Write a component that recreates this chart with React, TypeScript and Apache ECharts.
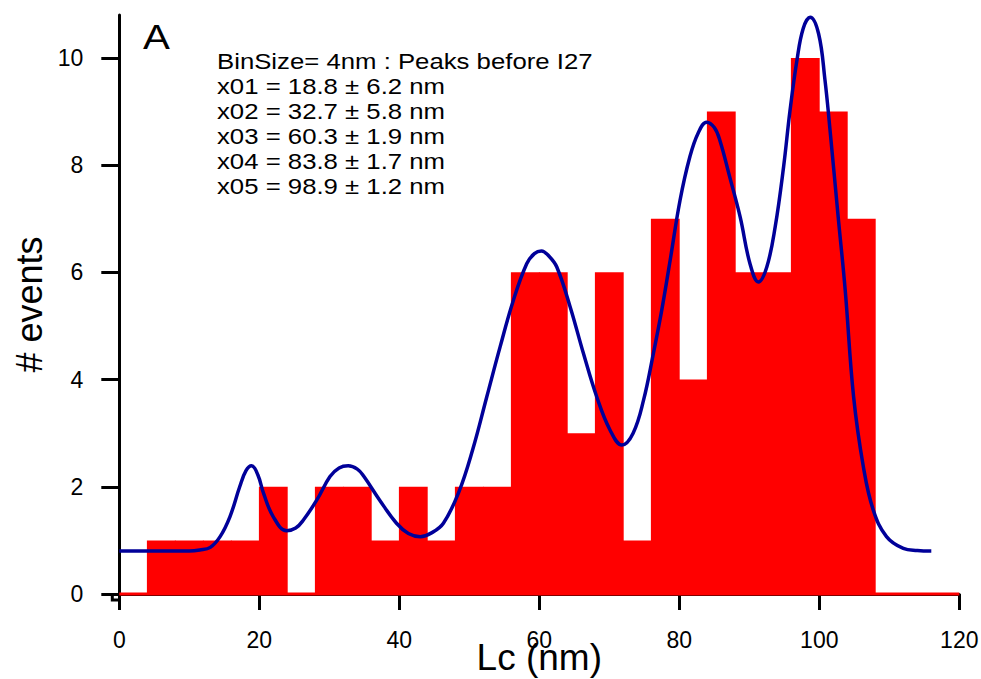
import React, { useEffect, useRef } from "react";
import * as echarts from "echarts";

// ---------- data ----------
const binSize = 4;
const binStarts = [0, 4, 8, 12, 16, 20, 24, 28, 32, 36, 40, 44, 48, 52, 56, 60, 64, 68, 72, 76, 80, 84, 88, 92, 96, 100, 104, 108, 112, 116];
const binCounts = [0, 1, 1, 1, 1, 2, 0, 2, 2, 1, 2, 1, 2, 2, 6, 6, 3, 6, 1, 7, 4, 9, 6, 6, 10, 9, 7, 0, 0, 0];

const fitX = [0, 4, 8, 10, 11.5, 13, 14.4, 15.8, 17.2, 18.1, 18.9, 19.8, 20.6, 22, 23.9, 25.2, 26.3, 28.2, 30.1, 31.4, 32.7, 34, 34.9, 37.2, 39.6, 41.3, 43, 44.6, 46.3, 48.5, 50.5, 52.5, 54.4, 56.3, 58.2, 59.3, 60.3, 61.4, 62.5, 64.4, 66.3, 68.2, 70.1, 71.8, 73.4, 74.9, 76.3, 77.5, 78.7, 80.1, 81.5, 82.7, 83.9, 85, 85.8, 87.2, 88.7, 90.1, 91.3, 92.5, 93.7, 94.9, 95.8, 96.8, 97.7, 98.7, 99.9, 100.8, 101.5, 102.7, 103.7, 104.9, 106.3, 107.7, 109.6, 112, 114, 116];
const fitY = [0.8, 0.8, 0.8, 0.8, 0.82, 0.87, 1.07, 1.44, 2.0, 2.3, 2.39, 2.22, 1.88, 1.44, 1.18, 1.23, 1.38, 1.75, 2.19, 2.35, 2.39, 2.33, 2.2, 1.75, 1.32, 1.13, 1.07, 1.14, 1.32, 1.9, 2.7, 3.68, 4.61, 5.48, 6.16, 6.35, 6.4, 6.3, 6.1, 5.36, 4.49, 3.68, 3.06, 2.78, 3.0, 3.62, 4.49, 5.3, 6.23, 7.34, 8.15, 8.6, 8.8, 8.7, 8.46, 7.78, 7.03, 6.16, 5.82, 6.1, 6.85, 7.97, 9.0, 9.95, 10.55, 10.76, 10.45, 9.6, 8.7, 7.03, 5.67, 3.68, 2.37, 1.57, 1.07, 0.85, 0.81, 0.8];

const baselineX = [0, 120];
const xTicks = [0, 20, 40, 60, 80, 100, 120];
const yTicks = [0, 2, 4, 6, 8, 10];

const panelLabel = "A";
const annotationLines = [
  "BinSize= 4nm : Peaks before I27",
  "x01 = 18.8 ± 6.2 nm",
  "x02 = 32.7 ± 5.8 nm",
  "x03 = 60.3 ± 1.9 nm",
  "x04 = 83.8 ± 1.7 nm",
  "x05 = 98.9 ± 1.2 nm",
];
const xTitle = "Lc (nm)";
const yTitle = "# events";

// ---------- layout ----------
const W = 981;
const H = 679;
const FONT = "'Liberation Sans', Arial, Helvetica, sans-serif";
const GL = 119.3;
const GR = 959.3;
const GT = 15;
const GB = 594;
const Y_OFF = 7;
const X_OFF = 6;

export default function App() {
  const ref = useRef<HTMLDivElement>(null);

  useEffect(() => {
    if (!ref.current) return;
    const chart = echarts.init(ref.current, null, { renderer: "svg" });

    const bins = binStarts
      .map((s, i) => [s, s + binSize, binCounts[i]])
      .filter((d) => d[2] > 0);
    const fit = fitX.map((x, i) => [x, fitY[i]]);
    const base = baselineX.map((x) => [x, 0]);

    const axisLine = { show: true, lineStyle: { color: "#000", width: 3 } };

    const option: any = {
      animation: false,
      backgroundColor: "#fff",
      grid: {
        left: GL,
        right: W - GR,
        top: GT,
        bottom: H - GB,
        containLabel: false,
        outerBoundsMode: "none",
      },
      xAxis: {
        type: "value",
        min: 0,
        max: 120,
        interval: 20,
        offset: X_OFF,
        axisLine,
        splitLine: { show: false },
        axisTick: { show: true, inside: false, length: 16, lineStyle: { color: "#000", width: 3 }, customValues: xTicks },
        axisLabel: { color: "#000", fontSize: 23, fontFamily: FONT, margin: 28, customValues: xTicks },
        name: xTitle,
        nameLocation: "middle",
        nameGap: 39,
        nameMoveOverlap: false,
        nameTextStyle: { color: "#000", fontSize: 37, fontFamily: FONT },
      },
      yAxis: {
        type: "value",
        min: 0,
        max: 10.8,
        offset: Y_OFF,
        axisLine,
        splitLine: { show: false },
        axisTick: { show: true, inside: false, length: 18, lineStyle: { color: "#000", width: 3 }, customValues: yTicks },
        axisLabel: { color: "#000", fontSize: 23, fontFamily: FONT, margin: 29, customValues: yTicks },
        name: yTitle,
        nameLocation: "middle",
        nameGap: 65,
        nameRotate: 90,
        nameMoveOverlap: false,
        nameTextStyle: { color: "#000", fontSize: 36, fontFamily: FONT },
      },
      series: [
        {
          type: "line",
          data: base,
          clip: false,
          symbol: "none",
          lineStyle: { color: "#ff0000", width: 3 },
          z: 1,
          silent: true,
        },
        {
          type: "custom",
          data: bins,
          encode: { x: [0, 1], y: 2 },
          z: 2,
          renderItem: (params: any, api: any) => {
            const p0 = api.coord([api.value(0), api.value(2)]);
            const p1 = api.coord([api.value(1), 0]);
            return {
              type: "rect",
              shape: { x: p0[0] - 0.4, y: p0[1], width: p1[0] - p0[0] + 0.8, height: p1[1] - p0[1] + 1 },
              style: { fill: "#ff0000" },
            };
          },
        },
        {
          type: "line",
          data: fit,
          clip: false,
          smooth: 0.4,
          symbol: "none",
          lineStyle: { color: "#000099", width: 3.5 },
          z: 3,
        },
      ],
      graphic: [
        {
          type: "polyline",
          shape: {
            points: [
              [GL - Y_OFF, GB - 1],
              [GL - Y_OFF, GB + X_OFF],
              [GL + 1, GB + X_OFF],
            ],
          },
          style: { stroke: "#000", lineWidth: 3, fill: "none", lineJoin: "miter" },
          z: 10,
        },
        {
          type: "text",
          x: 143,
          y: 36.5,
          scaleX: 1.12,
          style: { text: panelLabel, fontSize: 36, fontFamily: FONT, fill: "#000", verticalAlign: "middle" },
        },
        ...annotationLines.map((t, i) => ({
          type: "text",
          x: 217,
          y: 61.5 + 25 * i,
          scaleX: 1.17,
          style: { text: t, fontSize: 22, fontFamily: FONT, fill: "#000", verticalAlign: "middle" },
        })),
      ],
    };

    chart.setOption(option);
    return () => chart.dispose();
  }, []);

  return (
    <div
      ref={ref}
      style={{ position: "fixed", left: 0, top: 0, width: W, height: H, background: "#fff" }}
    />
  );
}
